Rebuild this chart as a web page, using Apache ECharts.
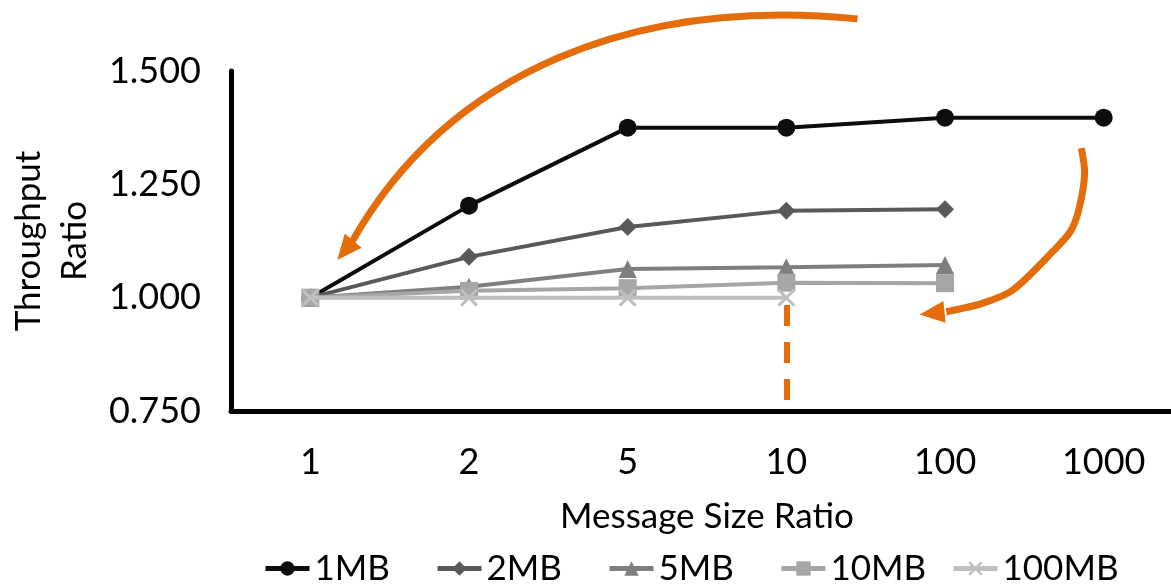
<!DOCTYPE html>
<html>
<head>
<meta charset="utf-8">
<script src="https://cdn.jsdelivr.net/npm/echarts@6/dist/echarts.min.js"></script>
<style>
  html, body { margin: 0; padding: 0; background: #ffffff; }
  #chart { width: 1171px; height: 587px; }
</style>
</head>
<body>
<div id="chart"></div>
<script>
// Message size ratios along the x axis
const categories = ['1', '2', '5', '10', '100', '1000'];

// Throughput ratio axis range and step
const yMin = 0.75;
const yMax = 1.5;
const yStep = 0.25;

// Throughput ratio per base message size
const seriesNames = ['1MB', '2MB', '5MB', '10MB', '100MB'];
const mb1   = [1.000, 1.203, 1.375, 1.375, 1.397, 1.397];
const mb2   = [1.000, 1.090, 1.156, 1.192, 1.195];
const mb5   = [1.000, 1.024, 1.063, 1.067, 1.072];
const mb10  = [1.000, 1.015, 1.021, 1.033, 1.032];
const mb100 = [1.000, 1.000, 1.000, 1.000];

// Guide at ratio 10, from just under the 1.000 level down toward the axis
const guideCategory = 3;
const guideFrom = 0.984;
const guideTo = 0.774;

// Curved annotation arrows, in (category position, ratio) coordinates
// Upper arrow: one cubic curve (start, control 1, control 2, end) then the tip
const sweepArrowCurve = [[3.449, 1.615], [2.068, 1.663], [0.876, 1.5045], [0.259, 1.121]];
const sweepArrowTip = [0.170, 1.083];
// Right-hand arrow: freeform stroke through these points, then the tip
const dropArrowPath = [[4.859, 1.330], [4.880, 1.274], [4.848, 1.201], [4.796, 1.149],
  [4.680, 1.102], [4.428, 1.017], [4.239, 0.988], [4.008, 0.969]];
const dropArrowTip = [3.840, 0.963];

const FONT = 'Lato';
const ORANGE = '#E46C0A';
const xShape = 'path://M0,1.2L1.2,0L5,3.8L8.8,0L10,1.2L6.2,5L10,8.8L8.8,10L5,6.2L1.2,10L0,8.8L3.8,5Z';

const styles = [
  { color: '#0d0d0d', symbol: 'circle' },
  { color: '#595959', symbol: 'diamond' },
  { color: '#7f7f7f', symbol: 'triangle' },
  { color: '#a6a6a6', symbol: 'rect' },
  { color: '#bfbfbf', symbol: xShape }
];
const values = [mb1, mb2, mb5, mb10, mb100];

const series = seriesNames.map((name, i) => ({
  name: name,
  type: 'line',
  data: values[i],
  symbol: styles[i].symbol,
  symbolSize: 18,
  showAllSymbol: true,
  itemStyle: { color: styles[i].color },
  lineStyle: { color: styles[i].color, width: 4 },
  emphasis: { disabled: true },
  z: 3 + i
}));

// Dashed orange guide attached to the last series
series[4].markLine = {
  silent: true,
  symbol: 'none',
  label: { show: false },
  lineStyle: { color: ORANGE, width: 6, type: [21, 16] },
  data: [[{ coord: [guideCategory, guideFrom] }, { coord: [guideCategory, guideTo] }]]
};

// One legend block per series so the entries sit on an even pitch
const legends = seriesNames.map((name, i) => ({
  data: [name],
  left: 263 + i * 172,
  top: 551,
  padding: 0,
  itemWidth: 44,
  itemHeight: 18,
  lineStyle: { width: 5 },
  textStyle: { fontFamily: FONT, fontSize: 35, color: '#000' }
}));

const chart = echarts.init(document.getElementById('chart'), null, { renderer: 'canvas' });

chart.setOption({
  animation: false,
  backgroundColor: '#ffffff',
  textStyle: { fontFamily: FONT, color: '#000' },
  grid: { left: 231, top: 71, bottom: 176, right: -12, containLabel: false, outerBoundsMode: 'none' },
  xAxis: {
    type: 'category',
    data: categories,
    boundaryGap: true,
    name: 'Message Size Ratio',
    nameLocation: 'middle',
    nameGap: 88,
    nameTextStyle: { fontFamily: FONT, fontSize: 35, color: '#000' },
    axisLine: { lineStyle: { color: '#000', width: 5 } },
    axisTick: { show: false },
    axisLabel: { fontFamily: FONT, fontSize: 36, color: '#000', margin: 33 },
    splitLine: { show: false }
  },
  yAxis: {
    type: 'value',
    min: yMin,
    max: yMax,
    interval: yStep,
    name: 'Throughput\nRatio',
    nameLocation: 'middle',
    nameRotate: 90,
    nameGap: 132,
    nameTextStyle: { fontFamily: FONT, fontSize: 35, color: '#000', lineHeight: 46 },
    axisLine: { show: true, lineStyle: { color: '#000', width: 5 } },
    axisTick: { show: false },
    axisLabel: {
      fontFamily: FONT, fontSize: 36, color: '#000', margin: 30,
      formatter: v => v.toFixed(3)
    },
    splitLine: { show: false }
  },
  legend: legends,
  series: series
});

// Map a (fractional category position, ratio) pair to pixels
function toPixel(p) {
  const a = chart.convertToPixel({ gridIndex: 0 }, [0, p[1]]);
  const b = chart.convertToPixel({ gridIndex: 0 }, [1, p[1]]);
  return [a[0] + (b[0] - a[0]) * p[0], a[1]];
}

// Filled arrow head pointing from `from` toward tip `t`
function arrowHead(from, t) {
  let dx = t[0] - from[0], dy = t[1] - from[1];
  const len = Math.hypot(dx, dy);
  dx /= len; dy /= len;
  const headLen = 25, half = 11;
  const bx = t[0] - dx * headLen, by = t[1] - dy * headLen;
  return {
    type: 'polygon',
    shape: { points: [t, [bx - dy * half, by + dx * half], [bx + dy * half, by - dx * half]] },
    style: { fill: ORANGE },
    silent: true,
    z: 21
  };
}

function sweepArrow(curve, tip) {
  const [s, c1, c2, e] = curve.map(toPixel);
  const t = toPixel(tip);
  return [
    {
      type: 'bezierCurve',
      shape: { x1: s[0], y1: s[1], cpx1: c1[0], cpy1: c1[1], cpx2: c2[0], cpy2: c2[1], x2: e[0], y2: e[1] },
      style: { stroke: ORANGE, lineWidth: 7, fill: null },
      silent: true,
      z: 20
    },
    arrowHead(e, t)
  ];
}

function freeformArrow(path, tip) {
  const pts = path.map(toPixel);
  const t = toPixel(tip);
  return [
    {
      type: 'polyline',
      shape: { points: pts, smooth: 0.3 },
      style: { stroke: ORANGE, lineWidth: 7, fill: null, lineJoin: 'round' },
      silent: true,
      z: 20
    },
    arrowHead(pts[pts.length - 1], t)
  ];
}

chart.setOption({
  graphic: sweepArrow(sweepArrowCurve, sweepArrowTip).concat(freeformArrow(dropArrowPath, dropArrowTip))
});
</script>
</body>
</html>
